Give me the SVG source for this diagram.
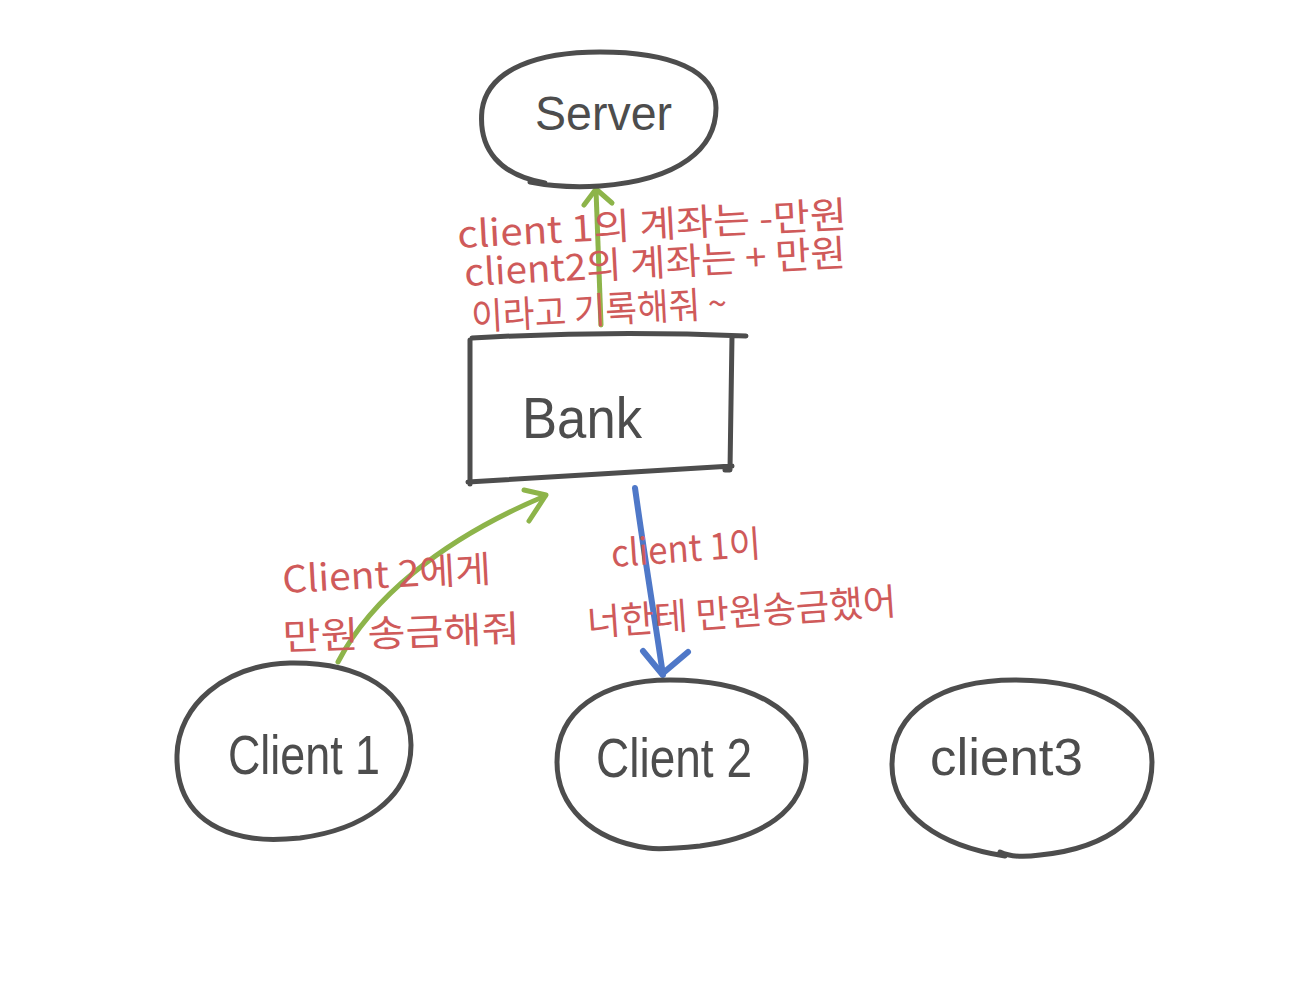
<svg xmlns="http://www.w3.org/2000/svg" width="1304" height="1000" viewBox="0 0 1304 1000">
<defs>
<style>
.shape{fill:none;stroke:#4d4d4d;stroke-width:5;stroke-linecap:round;stroke-linejoin:round}
.lbl{font-family:"Liberation Sans","Noto Sans CJK KR",sans-serif;fill:#4d4d4d}
.note{font-family:"Noto Sans CJK KR","Liberation Sans",sans-serif;fill:#cf5a5a;font-size:37px}
.g{fill:none;stroke:#8db44a;stroke-width:5;stroke-linecap:round;stroke-linejoin:round}
.b{fill:none;stroke:#4f78c8;stroke-width:6;stroke-linecap:round;stroke-linejoin:round}
</style>
</defs>
<rect width="1304" height="1000" fill="#ffffff"/>
<g id="connectors">
<path class="g" d="M601,325 L596,190"/>
<path class="g" d="M584,205 L596,189 L612,203"/>
<path class="g" d="M338,662 C370,600 440,540 545,496"/>
<path class="g" d="M524,490 L546,495 L529,521"/>
<path class="b" d="M635,488 C645,560 655,620 663,675"/>
<path class="b" d="M643,651 L662,674 L688,652"/>
</g>
<g id="server">
<path class="shape" d="M545,183 C500,175 478,150 482,110 C488,68 540,52 600,52 C670,52 716,70 716,108 C716,148 680,180 600,186 C570,188 550,186 530,182"/>
<text class="lbl" x="535" y="130" font-size="48" textLength="137" lengthAdjust="spacingAndGlyphs">Server</text>
</g>
<g id="bank">
<path class="shape" d="M472,338 C560,333 650,332 746,336 M732,336 L730,470 L725,470 M732,466 C640,472 560,476 468,482 M470,340 L470,484"/>
<text class="lbl" x="522" y="438" font-size="58" textLength="120" lengthAdjust="spacingAndGlyphs">Bank</text>
</g>
<g id="client1">
<path class="shape" d="M252,838 C200,830 176,800 177,755 C178,705 225,665 290,663 C360,662 410,690 411,745 C411,800 360,830 300,838 C280,840 265,840 252,838"/>
<text class="lbl" x="228" y="774" font-size="56" textLength="152" lengthAdjust="spacingAndGlyphs">Client 1</text>
</g>
<g id="client2">
<path class="shape" d="M648,848 C590,840 557,805 557,762 C557,712 600,680 670,680 C750,680 806,710 806,760 C806,812 760,838 700,846 C680,848 660,850 648,848"/>
<text class="lbl" x="596" y="777" font-size="56" textLength="156" lengthAdjust="spacingAndGlyphs">Client 2</text>
</g>
<g id="client3">
<path class="shape" d="M1005,856 C940,846 892,815 892,765 C892,712 940,680 1015,680 C1100,680 1152,715 1152,762 C1152,815 1110,848 1040,855 C1025,857 1010,857 1000,852"/>
<text class="lbl" x="930" y="775" font-size="52" textLength="153" lengthAdjust="spacingAndGlyphs">client3</text>
</g>
<g id="labels">
<text class="note" transform="rotate(-3 458 248)" x="458" y="248" textLength="390" lengthAdjust="spacingAndGlyphs">client 1의 계좌는  -만원</text>
<text class="note" transform="rotate(-3 465 286)" x="465" y="286" textLength="382" lengthAdjust="spacingAndGlyphs">client2의 계좌는  + 만원</text>
<text class="note" transform="rotate(-3 472 330)" x="472" y="330" textLength="256" lengthAdjust="spacingAndGlyphs">이라고 기록해줘 ~</text>
<text class="note" transform="rotate(-3 283 593)" x="283" y="593" textLength="209" lengthAdjust="spacingAndGlyphs">Client 2에게</text>
<text class="note" transform="rotate(-2 283 650)" x="283" y="650" textLength="237" lengthAdjust="spacingAndGlyphs">만원  송금해줘</text>
<text class="note" transform="rotate(-4 612 567)" x="612" y="567" textLength="150" lengthAdjust="spacingAndGlyphs">client 1이</text>
<text class="note" transform="rotate(-4 588 636)" x="588" y="636" textLength="310" lengthAdjust="spacingAndGlyphs">너한테 만원송금했어</text>
</g>
</svg>
